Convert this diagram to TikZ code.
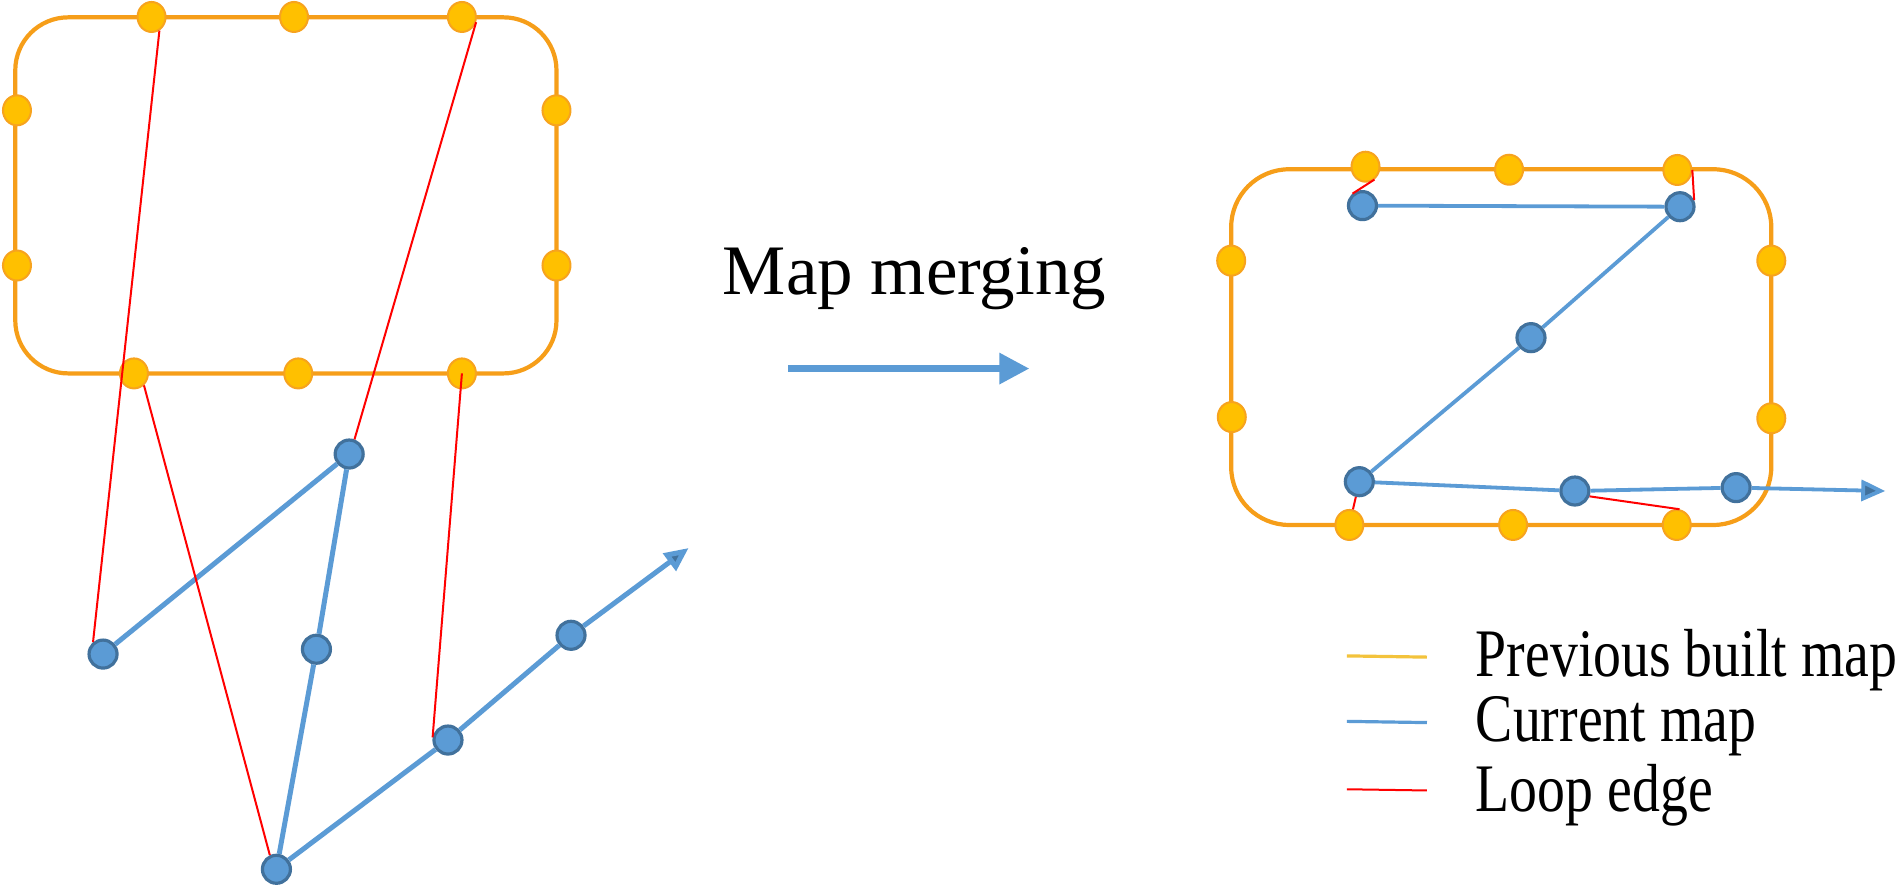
\documentclass[tikz,border=0pt]{standalone}
\usepackage{fontspec}
\setmainfont{Liberation Serif}
\usetikzlibrary{shapes.geometric,arrows.meta}
\definecolor{boxor}{RGB}{246,158,25}
\definecolor{dotfill}{RGB}{255,192,0}
\definecolor{dotline}{RGB}{247,163,30}
\definecolor{bfill}{RGB}{91,155,213}
\definecolor{bline}{RGB}{65,113,156}
\definecolor{redl}{RGB}{255,0,0}
\definecolor{legor}{RGB}{243,195,60}
\begin{document}
\begin{tikzpicture}[x=0.6062pt,y=-0.6062pt,
 odot/.style={ellipse,draw=dotline,fill=dotfill,line width=1pt,minimum width=14pt,minimum height=15pt,inner sep=0pt},
 bdot/.style={circle,draw=bline,fill=bfill,line width=1.6pt,minimum size=14pt,inner sep=0pt},
 boxline/.style={draw=boxor,line width=2.1pt},
 bedge/.style={draw=bfill,line width=2.5pt},
 thinbedge/.style={draw=bfill,line width=1.9pt},
 redge/.style={draw=redl,line width=1pt},
 legtext/.style={anchor=base west,inner sep=0pt},
 legfont/.style={font=\fontsize{34pt}{40pt}\selectfont},
 bigarrow/.style={draw=bfill,line width=3.2pt,-{Triangle[length=15pt,width=15pt]}},
 endarrow/.style={-{Triangle[length=12pt,width=10.5pt,fill=bline]}}]
\useasboundingbox (0,0) rectangle (1568,731.6);
% ---------- left map ----------
\draw[boxline,rounded corners=26.5pt] (12.6,14.3) rectangle (459,308);
\node[odot] (lt1) at (125,14) {};
\node[odot] (lt2) at (242.5,14) {};
\node[odot] (lt3) at (381,14) {};
\node[odot] (ll1) at (14,91) {};
\node[odot] (ll2) at (14,219) {};
\node[odot] (lr1) at (459,91) {};
\node[odot] (lr2) at (459,219) {};
\node[odot] (lb1) at (110.5,308) {};
\node[odot] (lb2) at (246,308) {};
\node[odot] (lb3) at (381,308) {};
\node[bdot] (b1) at (288,374.5) {};
\node[bdot] (b2) at (85,539.5) {};
\node[bdot] (b3) at (261,535.5) {};
\node[bdot] (b4) at (228,717) {};
\node[bdot] (b5) at (369.5,610.4) {};
\node[bdot] (b6) at (471,524) {};
\coordinate (bend) at (568,452);
\draw[bedge] (b2) -- (b1);
\draw[bedge] (b1) -- (b3);
\draw[bedge] (b3) -- (b4);
\draw[bedge] (b4) -- (b5);
\draw[bedge] (b5) -- (b6);
\draw[bedge,endarrow] (b6) -- (bend);
\draw[redge] (lt1.-60) -- (b2.130);
\draw[redge] (lt3.-20) -- (b1.70);
\draw[redge] (lb1.-50) -- (b4.115);
\draw[redge] (lb3.center) -- (b5.170);
% ---------- middle ----------
\node[anchor=base west,inner sep=0pt,font=\fontsize{35.5pt}{42pt}\selectfont] (mm) at (596,243) {Map merging};
\coordinate (ma) at (650,304);
\coordinate (mb) at (849,304);
\draw[bigarrow] (ma) -- (mb);
% ---------- right map ----------
\draw[boxline,rounded corners=29pt] (1015.5,139.6) rectangle (1461,433);
\node[odot] (rt1) at (1126.3,137.5) {};
\node[odot] (rt2) at (1244.7,140) {};
\node[odot] (rt3) at (1383.5,140.2) {};
\node[odot] (rl1) at (1015.5,215) {};
\node[odot] (rl2) at (1016,344) {};
\node[odot] (rr1) at (1461,215) {};
\node[odot] (rr2) at (1461,345) {};
\node[odot] (rb1) at (1113,433) {};
\node[odot] (rb2) at (1248,433) {};
\node[odot] (rb3) at (1383,433) {};
\node[bdot] (r1) at (1123.8,169.6) {};
\node[bdot] (r2) at (1385.7,170.5) {};
\node[bdot] (r3) at (1262.8,278.5) {};
\node[bdot] (r4) at (1121.2,397.3) {};
\node[bdot] (r5) at (1299,405) {};
\node[bdot] (r6) at (1432,402.2) {};
\coordinate (rend) at (1555,405);
\draw[thinbedge] (r1) -- (r2);
\draw[thinbedge] (r2) -- (r3);
\draw[thinbedge] (r3) -- (r4);
\draw[thinbedge] (r4) -- (r5);
\draw[thinbedge] (r5) -- (r6);
\draw[thinbedge,endarrow] (r6) -- (rend);
\draw[redge] (rt1.-55) -- (r1.130);
\draw[redge] (rt3.east) -- (r2.25);
\draw[redge] (r4) -- (rb1);
\draw[redge] (r5.-20) -- (rb3.80);
% ---------- legend ----------
\coordinate (la1) at (1111,541);
\coordinate (la2) at (1177,542);
\coordinate (lb1c) at (1111,595);
\coordinate (lb2c) at (1177,596);
\coordinate (lc1) at (1111,651);
\coordinate (lc2) at (1177,652);
\draw[draw=legor,line width=1.6pt] (la1) -- (la2);
\draw[draw=bfill,line width=1.6pt] (lb1c) -- (lb2c);
\draw[draw=redl,line width=1pt] (lc1) -- (lc2);
\node[legtext,legfont] (t1) at (1217,558) {\scalebox{0.82}[1]{Previous built map}};
\node[legtext,legfont] (t2) at (1217,612) {\scalebox{0.82}[1]{Current map}};
\node[legtext,legfont] (t3) at (1217,669) {\scalebox{0.82}[1]{Loop edge}};
\end{tikzpicture}
\end{document}
